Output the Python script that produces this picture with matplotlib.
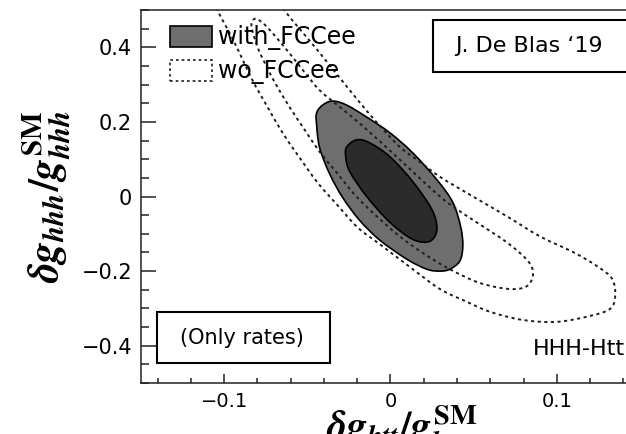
import numpy as np
import matplotlib
matplotlib.use("Agg")
import matplotlib.pyplot as plt
from matplotlib.path import Path
from matplotlib.patches import PathPatch, Patch, Rectangle

plt.rcParams['font.family'] = ['DejaVu Sans']
plt.rcParams['mathtext.fontset'] = 'custom'
plt.rcParams['mathtext.rm'] = 'STIXGeneral:bold'
plt.rcParams['mathtext.it'] = 'STIXGeneral:italic:bold'
plt.rcParams['mathtext.bf'] = 'STIXGeneral:bold'

# contour outlines (dg_htt, dg_hhh)
with_68_x = [-0.0263, -0.0203, -0.0125, -0.0004, 0.0134, 0.0249, 0.0279, 0.0237,
             0.0134, -0.0004, -0.0143, -0.0245, -0.0269]
with_68_y = [0.133, 0.152, 0.144, 0.107, 0.040, -0.035, -0.088, -0.120,
             -0.115, -0.069, 0.000, 0.067, 0.107]

with_95_x = [-0.0444, -0.0408, -0.0348, -0.0263, -0.0143, -0.0004, 0.0134, 0.0279,
             0.0375, 0.0423, 0.0435, 0.0417, 0.0357, 0.0297, 0.0219, 0.0098,
             -0.0064, -0.0185, -0.0287, -0.0366, -0.0426, -0.0444]
with_95_y = [0.224, 0.245, 0.256, 0.245, 0.213, 0.171, 0.117, 0.045,
             -0.016, -0.083, -0.133, -0.173, -0.195, -0.200, -0.195, -0.168,
             -0.117, -0.064, -0.003, 0.061, 0.131, 0.192]

wo_68_x = [-0.0811, -0.0836, -0.0817, -0.0787, -0.0745, -0.0697, -0.0607, -0.0516,
           -0.0426, -0.0323, -0.0215, -0.0095, 0.0056, 0.0207, 0.0357, 0.0538,
           0.0719, 0.0821, 0.0857, 0.0827, 0.0700, 0.0538, 0.0357, 0.0237,
           0.0056, -0.0167, -0.0305, -0.0426, -0.0516, -0.0607, -0.0697, -0.0757]
wo_68_y = [0.477, 0.461, 0.424, 0.387, 0.349, 0.307, 0.240, 0.179,
           0.120, 0.064, 0.005, -0.048, -0.107, -0.155, -0.195, -0.232,
           -0.248, -0.240, -0.208, -0.173, -0.123, -0.075, -0.021, 0.024,
           0.099, 0.189, 0.240, 0.285, 0.333, 0.384, 0.432, 0.461]

wo_95_x = [-0.1077, -0.1040, -0.0938, -0.0830, -0.0739, -0.0649, -0.0546, -0.0438,
           -0.0323, -0.0197, -0.0064, 0.0117, 0.0297, 0.0448, 0.0598, 0.0797,
           0.1002, 0.1201, 0.1321, 0.1351, 0.1333, 0.1243, 0.1098, 0.0899,
           0.0700, 0.0496, 0.0297, 0.0177, 0.0056, -0.0095, -0.0245, -0.0438,
           -0.0637, -0.0679]
wo_95_y = [0.539, 0.499, 0.413, 0.312, 0.240, 0.171, 0.104, 0.037,
           -0.021, -0.083, -0.128, -0.189, -0.248, -0.280, -0.309, -0.331,
           -0.336, -0.320, -0.301, -0.267, -0.221, -0.187, -0.149, -0.107,
           -0.053, 0.000, 0.053, 0.093, 0.133, 0.205, 0.285, 0.392,
           0.499, 0.539]

xticks = [-0.1, 0.0, 0.1]
xtick_labels = ['\u22120.1', '0', '0.1']
yticks = [-0.4, -0.2, 0.0, 0.2, 0.4]
ytick_labels = ['\u22120.4', '\u22120.2', '0', '0.2', '0.4']

grey_fill = '#6e6e6e'
dark_fill = '#2b2b2b'
dots = (0, (1.6, 1.8))


def smooth_path(xs, ys, closed=True):
    # Catmull-Rom through the outline points, drawn as cubic Bezier pieces
    pts = np.column_stack([xs, ys])
    n = len(pts)
    verts = [pts[0]]
    codes = [Path.MOVETO]
    nseg = n if closed else n - 1
    for i in range(nseg):
        p0 = pts[(i - 1) % n] if (closed or i > 0) else pts[i]
        p1 = pts[i]
        p2 = pts[(i + 1) % n]
        p3 = pts[(i + 2) % n] if (closed or i + 2 < n) else pts[i + 1]
        verts += [p1 + (p2 - p0) / 6, p2 - (p3 - p1) / 6, p2]
        codes += [Path.CURVE4] * 3
    if closed:
        verts.append(pts[0])
        codes.append(Path.CLOSEPOLY)
    return Path(verts, codes)


fig = plt.figure(figsize=(6.26, 4.34), dpi=100)
ax = fig.add_axes([0.2252, 0.1175, 0.7971, 0.8594])
ax.set_xlim(-0.15, 0.15)
ax.set_ylim(-0.5, 0.5)

ax.add_patch(PathPatch(smooth_path(with_95_x, with_95_y), facecolor=grey_fill,
                       edgecolor='black', lw=1.2, zorder=2))
ax.add_patch(PathPatch(smooth_path(with_68_x, with_68_y), facecolor=dark_fill,
                       edgecolor='black', lw=1.2, zorder=3))
ax.add_patch(PathPatch(smooth_path(wo_95_x, wo_95_y, closed=False), fill=False,
                       edgecolor='#1e1e1e', lw=1.4, linestyle=dots, zorder=4))
ax.add_patch(PathPatch(smooth_path(wo_68_x, wo_68_y), fill=False,
                       edgecolor='#1e1e1e', lw=1.4, linestyle=dots, zorder=4))

handles = [Patch(facecolor=grey_fill, edgecolor='black', lw=1.2, label='with_FCCee'),
           Patch(facecolor='white', edgecolor='#1e1e1e', lw=1.2, linestyle=dots,
                 label='wo_FCCee')]
ax.legend(handles=handles, loc='upper left', bbox_to_anchor=(0.058, 0.959),
          frameon=False, fontsize=17, handlelength=1.8, handleheight=1.0,
          handletextpad=0.25, labelspacing=0.38, borderpad=0, borderaxespad=0)

ax.add_patch(Rectangle((0.585, 0.834), 0.6, 0.139, transform=ax.transAxes,
                       facecolor='white', edgecolor='black', lw=1.5, zorder=5))
ax.text(0.629, 0.903, 'J. De Blas \u201819', transform=ax.transAxes,
        fontsize=16, va='center', ha='left', zorder=6)

ax.add_patch(Rectangle((0.0315, 0.053), 0.3475, 0.138, transform=ax.transAxes,
                       facecolor='white', edgecolor='black', lw=1.5, zorder=5))
ax.text(0.203, 0.120, '(Only rates)', transform=ax.transAxes,
        fontsize=15, va='center', ha='center', zorder=6)

ax.text(0.786, 0.090, 'HHH-Htt', transform=ax.transAxes, fontsize=16,
        va='center', ha='left')

ax.set_xticks(xticks)
ax.set_xticklabels(xtick_labels)
ax.set_yticks(yticks)
ax.set_yticklabels(ytick_labels)
ax.xaxis.set_minor_locator(matplotlib.ticker.MultipleLocator(0.02))
ax.yaxis.set_minor_locator(matplotlib.ticker.MultipleLocator(0.05))
ax.tick_params(which='both', direction='in', top=False, right=False,
               pad=6.5, width=1.1, color='#222222')
ax.tick_params(axis='x', labelsize=14)
ax.tick_params(axis='y', labelsize=15)
ax.tick_params(axis='y', which='major', length=10.8)
ax.tick_params(axis='y', which='minor', length=5.8)
ax.tick_params(axis='x', which='major', length=6.5)
ax.tick_params(axis='x', which='minor', length=3.3)
for sp in ax.spines.values():
    sp.set_linewidth(1.1)
    sp.set_color('#222222')

ax.set_xlabel(r'$\delta g_{htt}/g_{htt}^{\mathrm{SM}}$', fontsize=29)
ax.xaxis.set_label_coords(0.523, -0.056)
ax.xaxis.label.set_va('top')
ax.set_ylabel(r'$\delta g_{hhh}/g_{hhh}^{\mathrm{SM}}$', fontsize=30)
ax.yaxis.set_label_coords(-0.138, 0.5)

fig.savefig('out.png', dpi=100)
